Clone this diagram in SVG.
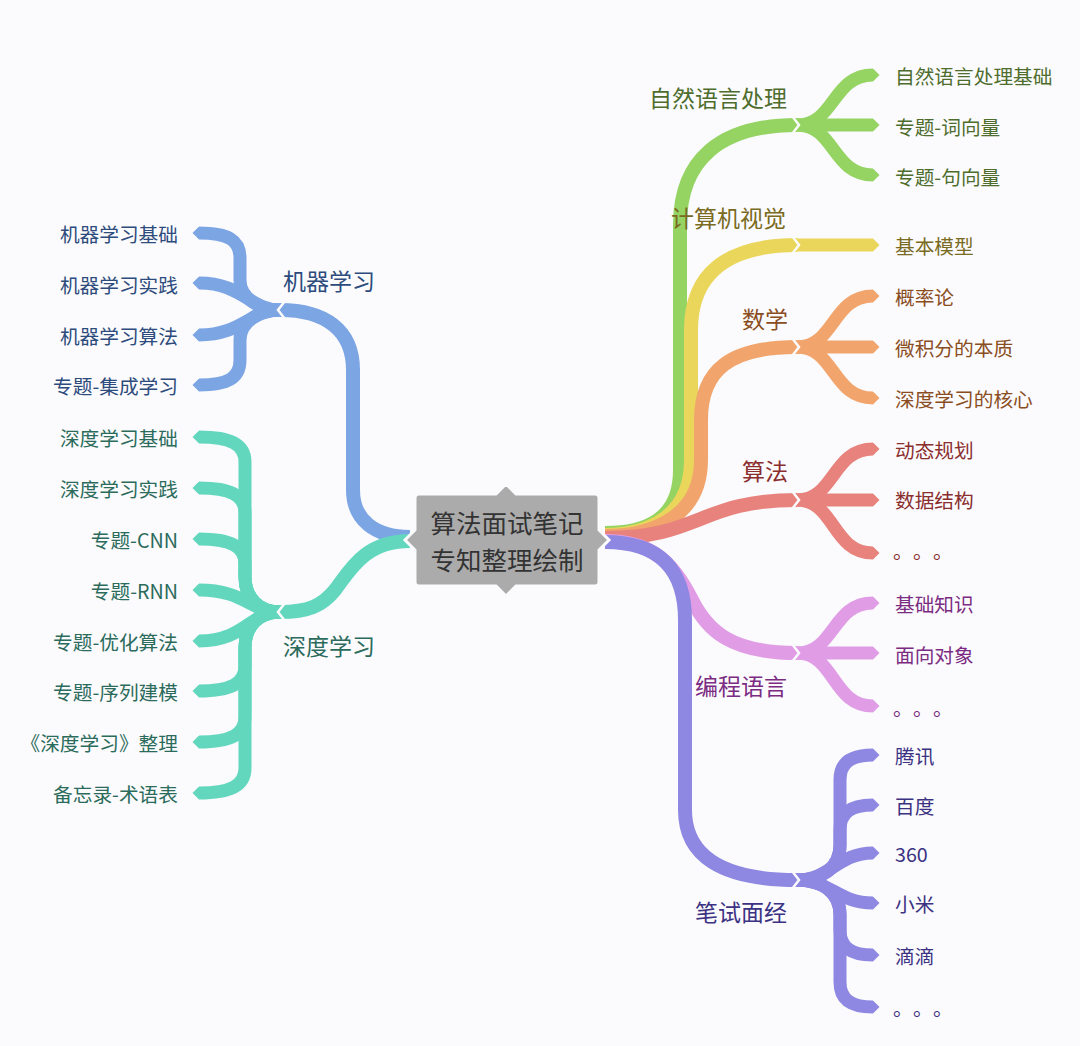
<svg xmlns="http://www.w3.org/2000/svg" width="1080" height="1046" viewBox="0 0 1080 1046">
<defs>
<style>
text{font-family:"Noto Sans CJK SC","Noto Sans",sans-serif;dominant-baseline:central}
.m{font-size:23px}
.c{font-size:19.7px}
.r{text-anchor:end}
.br{fill:none;stroke-width:14;stroke-linecap:butt}
.ch{fill:none;stroke-width:13;stroke-linecap:butt}
.gap{fill:none;stroke:#fbfbfd;stroke-width:2.5}
.green{stroke:#95d463}.yellow{stroke:#e9d65b}.orange{stroke:#f1a56d}.red{stroke:#e8827d}
.pink{stroke:#e09de6}.purple{stroke:#8f88e2}.blue{stroke:#7ca5e4}.teal{stroke:#62d7be}
</style>
<marker id="tg" viewBox="0 0 1 2" refX="0" refY="1" markerWidth="0.55" markerHeight="1" orient="auto" markerUnits="strokeWidth"><path d="M0,0 L1,1 L0,2z" fill="#95d463"/></marker>
<marker id="ty" viewBox="0 0 1 2" refX="0" refY="1" markerWidth="0.55" markerHeight="1" orient="auto" markerUnits="strokeWidth"><path d="M0,0 L1,1 L0,2z" fill="#e9d65b"/></marker>
<marker id="to" viewBox="0 0 1 2" refX="0" refY="1" markerWidth="0.55" markerHeight="1" orient="auto" markerUnits="strokeWidth"><path d="M0,0 L1,1 L0,2z" fill="#f1a56d"/></marker>
<marker id="tr" viewBox="0 0 1 2" refX="0" refY="1" markerWidth="0.55" markerHeight="1" orient="auto" markerUnits="strokeWidth"><path d="M0,0 L1,1 L0,2z" fill="#e8827d"/></marker>
<marker id="tp" viewBox="0 0 1 2" refX="0" refY="1" markerWidth="0.55" markerHeight="1" orient="auto" markerUnits="strokeWidth"><path d="M0,0 L1,1 L0,2z" fill="#e09de6"/></marker>
<marker id="tu" viewBox="0 0 1 2" refX="0" refY="1" markerWidth="0.55" markerHeight="1" orient="auto" markerUnits="strokeWidth"><path d="M0,0 L1,1 L0,2z" fill="#8f88e2"/></marker>
<marker id="tb" viewBox="0 0 1 2" refX="0" refY="1" markerWidth="0.55" markerHeight="1" orient="auto" markerUnits="strokeWidth"><path d="M0,0 L1,1 L0,2z" fill="#7ca5e4"/></marker>
<marker id="tt" viewBox="0 0 1 2" refX="0" refY="1" markerWidth="0.55" markerHeight="1" orient="auto" markerUnits="strokeWidth"><path d="M0,0 L1,1 L0,2z" fill="#62d7be"/></marker>
</defs>
<rect width="1080" height="1046" fill="#fbfbfd"/>
<g id="connectors">
<path class="br green" d="M605,533 C645,533 680,520 680,470 L680,225 C680,160 720,125 797,125"/>
<path class="br yellow" d="M605,535 C650,535 691,515 691,460 L691,330 C691,275 725,245 797,245"/>
<path class="br orange" d="M605,536 C655,536 701,515 701,460 L701,420 C701,370 730,347 797,347"/>
<path class="br red" d="M605,538 C700,538 700,500 797,500"/>
<path class="br pink" d="M605,541 C650,541 672,560 692,600 C707,630 730,653 797,653"/>
<path class="br purple" d="M605,542 C660,542 685,570 685,620 L685,810 C685,855 720,880 797,880"/>
<path class="br blue" d="M410,537 C375,537 353,520 353,490 L353,370 C353,330 325,310 280,310"/>
<path class="br teal" d="M410,541 C365,541 350,570 335,590 C322,606 308,612 280,612"/>
<path class="ch green" marker-end="url(#tg)" d="M797,125 C835,125 832,75 873,75"/>
<path class="ch green" marker-end="url(#tg)" d="M797,125 L873,125"/>
<path class="ch green" marker-end="url(#tg)" d="M797,125 C835,125 832,175 873,175"/>
<path class="ch yellow" marker-end="url(#ty)" d="M797,245 L873,245"/>
<path class="ch orange" marker-end="url(#to)" d="M797,347 C835,347 832,296 873,296"/>
<path class="ch orange" marker-end="url(#to)" d="M797,347 L873,347"/>
<path class="ch orange" marker-end="url(#to)" d="M797,347 C835,347 832,398 873,398"/>
<path class="ch red" marker-end="url(#tr)" d="M797,500 C835,500 832,449 873,449"/>
<path class="ch red" marker-end="url(#tr)" d="M797,500 L873,500"/>
<path class="ch red" marker-end="url(#tr)" d="M797,500 C835,500 832,553 873,553"/>
<path class="ch pink" marker-end="url(#tp)" d="M797,653 C835,653 832,603 873,603"/>
<path class="ch pink" marker-end="url(#tp)" d="M797,653 L873,653"/>
<path class="ch pink" marker-end="url(#tp)" d="M797,653 C835,653 832,706 873,706"/>
<path class="ch purple" marker-end="url(#tu)" d="M797,880 C822,880 840,868 840,845 L840,780 C840,762 852,755 873,755"/>
<path class="ch purple" marker-end="url(#tu)" d="M797,880 C822,880 840,868 840,845 L840,830 C840,812 852,805 873,805"/>
<path class="ch purple" marker-end="url(#tu)" d="M797,880 C830,880 838,853 873,853"/>
<path class="ch purple" marker-end="url(#tu)" d="M797,880 C830,880 838,903 873,903"/>
<path class="ch purple" marker-end="url(#tu)" d="M797,880 C822,880 840,892 840,915 L840,930 C840,948 852,955 873,955"/>
<path class="ch purple" marker-end="url(#tu)" d="M797,880 C822,880 840,892 840,915 L840,982 C840,1000 852,1007 873,1007"/>
<path class="ch blue" marker-end="url(#tb)" d="M280,310 C258,310 240,297 240,280 L240,258 C240,240 228,233 199,233"/>
<path class="ch blue" marker-end="url(#tb)" d="M280,310 C250,310 242,283 199,283"/>
<path class="ch blue" marker-end="url(#tb)" d="M280,310 C250,310 242,335 199,335"/>
<path class="ch blue" marker-end="url(#tb)" d="M280,310 C258,310 240,323 240,340 L240,360 C240,378 228,385 199,385"/>
<path class="ch teal" marker-end="url(#tt)" d="M280,612 C258,612 245,597 245,577 L245,462 C245,444 230,437 199,437"/>
<path class="ch teal" marker-end="url(#tt)" d="M280,612 C258,612 245,597 245,577 L245,513 C245,495 230,488 199,488"/>
<path class="ch teal" marker-end="url(#tt)" d="M280,612 C258,612 245,597 245,577 L245,564 C245,546 230,539 199,539"/>
<path class="ch teal" marker-end="url(#tt)" d="M280,612 C250,612 245,590 199,590"/>
<path class="ch teal" marker-end="url(#tt)" d="M280,612 C250,612 245,641 199,641"/>
<path class="ch teal" marker-end="url(#tt)" d="M280,612 C258,612 245,627 245,647 L245,666 C245,684 230,691 199,691"/>
<path class="ch teal" marker-end="url(#tt)" d="M280,612 C258,612 245,627 245,647 L245,717 C245,735 230,742 199,742"/>
<path class="ch teal" marker-end="url(#tt)" d="M280,612 C258,612 245,627 245,647 L245,768 C245,786 230,793 199,793"/>
<polyline class="gap" points="792,116 799,125 792,134"/>
<polyline class="gap" points="792,236 799,245 792,254"/>
<polyline class="gap" points="792,338 799,347 792,356"/>
<polyline class="gap" points="792,491 799,500 792,509"/>
<polyline class="gap" points="792,644 799,653 792,662"/>
<polyline class="gap" points="792,871 799,880 792,889"/>
<polyline class="gap" points="285,301 278,310 285,319"/>
<polyline class="gap" points="285,603 278,612 285,621"/>
</g>
<g id="n-root">
<path d="M419,494 L496,494 L506,484 L516,494 L595,494 Q599,494 599,498 L599,530 L609,540 L599,550 L599,582 Q599,586 595,586 L516,586 L506,596 L496,586 L419,586 Q415,586 415,582 L415,550 L405,540 L415,530 L415,498 Q415,494 419,494 Z" fill="#ababab" stroke="#fbfbfd" stroke-width="3"/>
<text x="507" y="521" style="font-size:25.5px;text-anchor:middle" fill="#333333">算法面试笔记</text>
<text x="507" y="558" style="font-size:25.5px;text-anchor:middle" fill="#333333">专知整理绘制</text>
</g>
<g id="n-nlp" fill="#4e6d2d">
<text class="m" x="649" y="97">自然语言处理</text>
<text class="c" x="895" y="75">自然语言处理基础</text>
<text class="c" x="895" y="126">专题-词向量</text>
<text class="c" x="895" y="176">专题-句向量</text>
</g>
<g id="n-cv" fill="#7a6a22">
<text class="m" x="671" y="217">计算机视觉</text>
<text class="c" x="895" y="245">基本模型</text>
</g>
<g id="n-math" fill="#8a4d22">
<text class="m" x="742" y="318">数学</text>
<text class="c" x="895" y="296">概率论</text>
<text class="c" x="895" y="347">微积分的本质</text>
<text class="c" x="895" y="398">深度学习的核心</text>
</g>
<g id="n-algo" fill="#8a2e2e">
<text class="m" x="742" y="470">算法</text>
<text class="c" x="895" y="449">动态规划</text>
<text class="c" x="895" y="499">数据结构</text>
<text class="c" x="893 913 933" y="550">。。。</text>
</g>
<g id="n-prog" fill="#7b2c82">
<text class="m" x="695" y="685">编程语言</text>
<text class="c" x="895" y="603">基础知识</text>
<text class="c" x="895" y="654">面向对象</text>
<text class="c" x="893 913 933" y="707">。。。</text>
</g>
<g id="n-exam" fill="#3b3283">
<text class="m" x="695" y="911">笔试面经</text>
<text class="c" x="895" y="755">腾讯</text>
<text class="c" x="895" y="805">百度</text>
<text class="c" x="895" y="853">360</text>
<text class="c" x="895" y="903">小米</text>
<text class="c" x="895" y="955">滴滴</text>
<text class="c" x="893 913 933" y="1007">。。。</text>
</g>
<g id="n-ml" fill="#2d4b7c">
<text class="m" x="283" y="280">机器学习</text>
<text class="c r" x="178" y="233">机器学习基础</text>
<text class="c r" x="178" y="284">机器学习实践</text>
<text class="c r" x="178" y="335">机器学习算法</text>
<text class="c r" x="178" y="385">专题-集成学习</text>
</g>
<g id="n-dl" fill="#2b6b5c">
<text class="m" x="283" y="645">深度学习</text>
<text class="c r" x="178" y="437">深度学习基础</text>
<text class="c r" x="178" y="488">深度学习实践</text>
<text class="c r" x="178" y="539">专题-CNN</text>
<text class="c r" x="178" y="590">专题-RNN</text>
<text class="c r" x="178" y="641">专题-优化算法</text>
<text class="c r" x="178" y="691">专题-序列建模</text>
<text class="c r" x="178" y="742">《深度学习》整理</text>
<text class="c r" x="178" y="793">备忘录-术语表</text>
</g>
</svg>
